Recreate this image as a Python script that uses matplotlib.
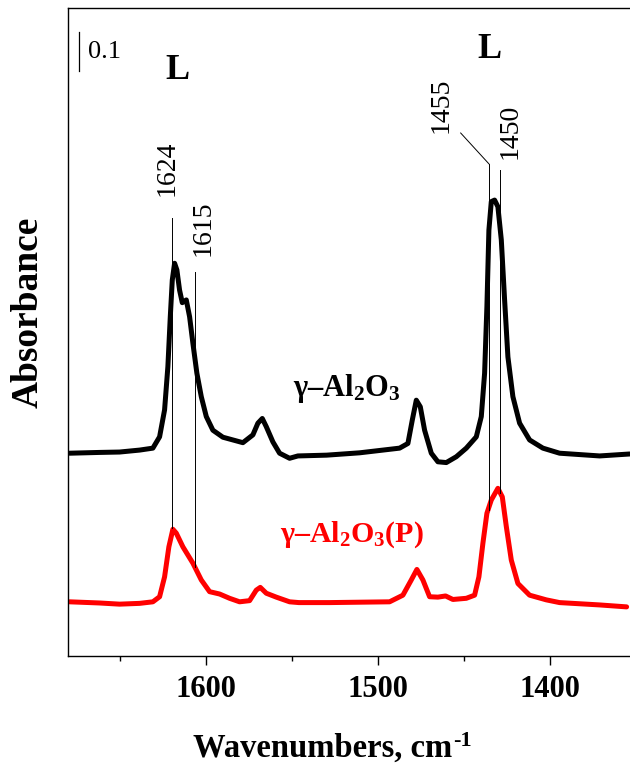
import numpy as np
import matplotlib
matplotlib.use('Agg')
import matplotlib.pyplot as plt

# ── Data ──────────────────────────────────────────────────────
WN_BLACK = [1679.07, 1661.63, 1650.00, 1638.37, 1630.64, 1626.74, 1623.84, 1621.92,
            1620.52, 1619.36, 1618.02, 1616.69, 1615.12, 1613.55, 1611.22, 1609.30,
            1607.38, 1605.06, 1602.50, 1599.59, 1595.76, 1589.94, 1584.13, 1578.31,
            1572.50, 1569.59, 1567.03, 1564.71, 1560.87, 1556.98, 1551.16, 1546.34,
            1529.65, 1510.47, 1487.21, 1482.38, 1479.83, 1477.50, 1475.17, 1472.67,
            1468.78, 1464.94, 1460.06, 1454.24, 1448.43, 1442.62, 1439.71, 1437.79,
            1436.45, 1435.29, 1433.90, 1431.98, 1430.06, 1428.08, 1426.16, 1424.24,
            1421.34, 1417.44, 1411.63, 1403.90, 1394.19, 1370.93, 1353.49]
ABS_BLACK = [0.520, 0.522, 0.523, 0.528, 0.533, 0.562, 0.631, 0.742,
             0.870, 0.964, 1.007, 0.990, 0.938, 0.906, 0.913, 0.870,
             0.802, 0.725, 0.665, 0.614, 0.579, 0.561, 0.554, 0.547,
             0.567, 0.597, 0.609, 0.588, 0.549, 0.520, 0.507, 0.513,
             0.515, 0.521, 0.533, 0.545, 0.605, 0.656, 0.639, 0.579,
             0.520, 0.498, 0.496, 0.511, 0.533, 0.562, 0.614, 0.725,
             0.896, 1.092, 1.165, 1.169, 1.152, 1.067, 0.913, 0.767,
             0.665, 0.597, 0.554, 0.533, 0.520, 0.513, 0.518]

WN_RED = [1679.07, 1661.63, 1650.00, 1638.37, 1630.64, 1626.74, 1623.84, 1621.34,
          1619.01, 1617.03, 1613.20, 1607.38, 1602.50, 1597.67, 1591.86, 1586.05,
          1580.23, 1574.42, 1570.52, 1568.20, 1564.71, 1558.90, 1551.16, 1545.76,
          1527.91, 1510.47, 1493.02, 1485.29, 1480.41, 1477.15, 1473.66, 1469.77,
          1464.94, 1460.47, 1456.22, 1448.43, 1443.60, 1441.10, 1438.78, 1436.45,
          1433.90, 1430.06, 1427.50, 1425.17, 1422.27, 1418.43, 1411.63, 1401.92,
          1394.19, 1370.93, 1355.23]
ABS_RED = [0.139, 0.136, 0.133, 0.135, 0.139, 0.152, 0.203, 0.280,
           0.325, 0.315, 0.280, 0.238, 0.195, 0.165, 0.159, 0.148,
           0.139, 0.142, 0.169, 0.176, 0.161, 0.151, 0.139, 0.137,
           0.137, 0.138, 0.139, 0.156, 0.195, 0.222, 0.195, 0.152,
           0.151, 0.154, 0.145, 0.148, 0.156, 0.203, 0.289, 0.366,
           0.400, 0.430, 0.408, 0.332, 0.246, 0.186, 0.156, 0.144,
           0.137, 0.131, 0.126]

# peak marker lines: label, x position, y bottom, y top
PEAK_LABELS = ['1624', '1615', '1455', '1450']
PEAK_X      = [1619.4, 1606.4, 1435.3, 1428.9]
PEAK_Y0     = [0.328, 0.228, 0.374, 0.418]
PEAK_Y1     = [1.123, 0.985, 1.262, 1.246]

X_TICKS = [1600, 1500, 1400]

# ── Style ─────────────────────────────────────────────────────
plt.rcParams['font.family'] = ['Liberation Serif', 'DejaVu Serif']
plt.rcParams['mathtext.fontset'] = 'custom'
plt.rcParams['mathtext.rm'] = 'Liberation Serif:bold'
plt.rcParams['mathtext.it'] = 'Liberation Serif:bold'
plt.rcParams['mathtext.bf'] = 'Liberation Serif:bold'

fig = plt.figure(figsize=(6.3, 7.68), dpi=100)
ax = fig.add_axes([0.1079, 0.1458, 0.901, 0.8438])

ax.plot(WN_BLACK, ABS_BLACK, color='black', lw=3.6,
        solid_joinstyle='round', solid_capstyle='round')
ax.plot(WN_RED, ABS_RED, color='#ff0000', lw=3.6,
        solid_joinstyle='round', solid_capstyle='round')

# thin peak markers
for lab, x, y0, y1 in zip(PEAK_LABELS, PEAK_X, PEAK_Y0, PEAK_Y1):
    ax.plot([x, x], [y0, y1], color='black', lw=0.7)
ax.plot([PEAK_X[2], 1451.7], [PEAK_Y1[2], 1.341], color='black', lw=0.7)

txt = dict(rotation=90, ha='center', va='center', fontsize=20)
ax.text(1622.1, 1.251, PEAK_LABELS[0], **txt)
ax.text(1601.7, 1.097, PEAK_LABELS[1], **txt)
ax.text(1462.8, 1.413, PEAK_LABELS[2], **txt)
ax.text(1422.7, 1.346, PEAK_LABELS[3], **txt)

ax.text(1616.3, 1.50, 'L', fontsize=26, fontweight='bold', ha='center', va='center')
ax.text(1434.9, 1.555, 'L', fontsize=26, fontweight='bold', ha='center', va='center')

# 0.1 absorbance scale bar
ax.plot([1673.8, 1673.8], [1.5, 1.6], color='black', lw=0.9)
ax.text(1668.6, 1.549, '0.1', fontsize=19, ha='left', va='center')

ax.text(1518.0, 0.687, r'γ–Al$_2$O$_3$', fontsize=22, fontweight='bold',
        ha='center', va='center')
ax.text(1515.1, 0.310, r'γ–Al$_2$O$_3$(P)', fontsize=21.5, fontweight='bold',
        ha='center', va='center', color='#ff0000')

ax.set_xlim(1680, 1350)
ax.set_ylim(0, 1.6615)
ax.set_xticks(X_TICKS)
ax.set_xticks([1650, 1550, 1450, 1350], minor=True)
ax.set_yticks([])
ax.tick_params(axis='x', which='major', direction='out', length=6.5, width=1.0,
               labelsize=22, pad=7)
ax.tick_params(axis='x', which='minor', direction='out', length=3.5, width=1.0)
for lbl in ax.get_xticklabels():
    lbl.set_fontweight('bold')
for sp in ax.spines.values():
    sp.set_linewidth(1.0)

fig.text(28 / 630, 1 - 312 / 768, 'Absorbance', rotation=90, fontsize=27,
         fontweight='bold', ha='center', va='center')

# x label with a plain hyphen superscript, as in the original
xl = fig.text(193 / 630, 1 - 757 / 768, 'Wavenumbers, cm', fontsize=23.5,
              fontweight='bold', ha='left', va='baseline')
renderer = fig.canvas.get_renderer()
bb = xl.get_window_extent(renderer)
fig.text((bb.x1 + 1) / 630, 1 - 746 / 768, '-1', fontsize=16,
         fontweight='bold', ha='left', va='baseline')

fig.savefig('out.png', dpi=100)
